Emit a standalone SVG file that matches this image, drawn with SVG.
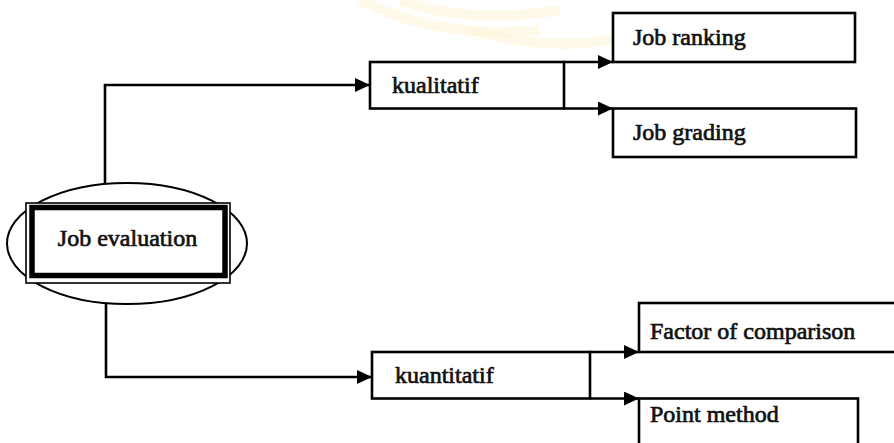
<svg xmlns="http://www.w3.org/2000/svg" width="894" height="443" viewBox="0 0 894 443">
<style>
.bx{fill:#fff;stroke:#000;stroke-width:2.6}
.ln{fill:none;stroke:#000;stroke-width:2.6}
.t{font-family:"Liberation Serif","Times New Roman",serif;font-size:24px;fill:#111;stroke:#111;stroke-width:0.7}
.wm{fill:none;stroke:#fdf5d8;stroke-width:10;opacity:0.6}
</style>
<defs>
<marker id="ah" markerUnits="userSpaceOnUse" markerWidth="15" markerHeight="14" refX="15" refY="7" orient="auto">
<path d="M0,0 L15,7 L0,14 Z" fill="#000"/>
</marker>
</defs>
<rect width="894" height="443" fill="#fff"/>
<g id="watermark">
<path class="wm" d="M360,0 Q440,40 540,30"/>
<path class="wm" d="M400,0 Q470,25 560,10"/>
<path class="wm" d="M470,30 Q560,55 630,35"/>
</g>
<g id="connectors">
<path class="ln" d="M105,184 V85 H370" marker-end="url(#ah)"/>
<path class="ln" d="M106,304 V377 H372" marker-end="url(#ah)"/>
<path class="ln" d="M564,62 H613" marker-end="url(#ah)"/>
<path class="ln" d="M564,108.5 H613" marker-end="url(#ah)"/>
<path class="ln" d="M590,352 H639" marker-end="url(#ah)"/>
<path class="ln" d="M590,398.5 H639" marker-end="url(#ah)"/>
</g>
<g id="job-evaluation">
<ellipse cx="127" cy="243.5" rx="120" ry="60.5" fill="#fff" stroke="#000" stroke-width="2"/>
<rect x="26" y="203" width="204" height="80" fill="#fff" stroke="#000" stroke-width="1.6"/>
<rect x="32" y="207.5" width="193" height="68" fill="#fff" stroke="#000" stroke-width="5.5"/>
<text class="t" x="127.5" y="246" text-anchor="middle">Job evaluation</text>
</g>
<g id="kualitatif">
<rect class="bx" x="370" y="62" width="194" height="46.5"/>
<text class="t" x="392" y="93">kualitatif</text>
</g>
<g id="kuantitatif">
<rect class="bx" x="372" y="352" width="218" height="46.5"/>
<text class="t" x="395" y="383">kuantitatif</text>
</g>
<g id="job-ranking">
<rect class="bx" x="613" y="13" width="242" height="49"/>
<text class="t" x="633" y="45">Job ranking</text>
</g>
<g id="job-grading">
<rect class="bx" x="613" y="108.5" width="243" height="48.5"/>
<text class="t" x="633" y="140">Job grading</text>
</g>
<g id="factor-of-comparison">
<rect class="bx" x="639" y="303" width="270" height="49"/>
<text class="t" x="650" y="339">Factor of comparison</text>
</g>
<g id="point-method">
<rect class="bx" x="639" y="398.5" width="219" height="60"/>
<text class="t" x="650" y="422">Point method</text>
</g>
</svg>
